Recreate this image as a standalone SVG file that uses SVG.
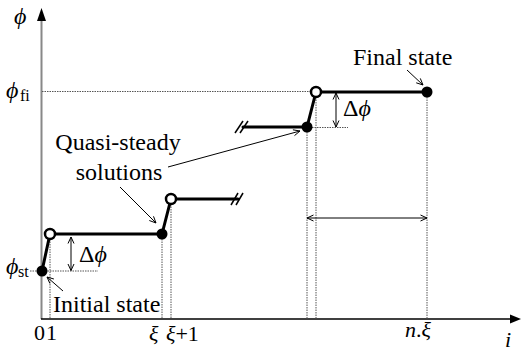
<svg xmlns="http://www.w3.org/2000/svg" width="521" height="352" viewBox="0 0 521 352">
<g id="axes">
<line x1="41.5" y1="20" x2="41.5" y2="319" stroke="#888" stroke-width="2"/>
<polygon points="41.5,8 37,21 46,21" fill="#000"/>
<line x1="41" y1="319" x2="511" y2="319" stroke="#000" stroke-width="1.5"/>
<polygon points="521,319 510,314.5 510,323.5" fill="#000"/>
</g>
<g id="guides" stroke="#555" stroke-width="1" stroke-dasharray="1.5,1" fill="none">
<line x1="42" y1="91.5" x2="316" y2="91.5"/>
<line x1="30" y1="271" x2="98" y2="271"/>
<line x1="307" y1="127.5" x2="348" y2="127.5"/>
<line x1="50" y1="234" x2="50" y2="319"/>
<line x1="162" y1="234" x2="162" y2="319"/>
<line x1="171" y1="199" x2="171" y2="319"/>
<line x1="307" y1="127" x2="307" y2="319"/>
<line x1="316" y1="92" x2="316" y2="319"/>
<line x1="427" y1="92" x2="427" y2="319"/>
</g>
<g id="path" stroke="#000" fill="none">
<polyline stroke-width="3" stroke-linecap="round" points="42,271 50,234 162,234 171,199 238,199"/>
<line stroke-width="1.5" x1="231" y1="205" x2="238" y2="193"/>
<line stroke-width="1.5" x1="236" y1="205" x2="243" y2="193"/>
<polyline stroke-width="3" stroke-linecap="round" points="243,127 307,127 316,92 427,92"/>
<line stroke-width="1.5" x1="235" y1="133" x2="243" y2="121"/>
<line stroke-width="1.5" x1="240" y1="133" x2="248" y2="121"/>
</g>
<g id="points">
<circle id="p-start" fill="#000" cx="42" cy="271" r="5.5"/>
<circle id="p-1" fill="#fff" stroke="#000" stroke-width="2.5" cx="50" cy="234" r="5"/>
<circle id="p-xi" fill="#000" cx="162" cy="234" r="5.5"/>
<circle id="p-xi1" fill="#fff" stroke="#000" stroke-width="2.5" cx="171" cy="199" r="5"/>
<circle id="p-b" fill="#000" cx="307" cy="127" r="5.5"/>
<circle id="p-c" fill="#fff" stroke="#000" stroke-width="2.5" cx="316" cy="92" r="5"/>
<circle id="p-final" fill="#000" cx="427" cy="92" r="5.5"/>
</g>
<g id="connectors" stroke="#000" stroke-width="1" fill="none">
<line x1="71" y1="237" x2="71" y2="270.5"/>
<polyline points="68,243.5 71,237 74,243.5"/>
<polyline points="68,264 71,270.5 74,264"/>
<line x1="336" y1="93" x2="336" y2="127"/>
<polyline points="333,99.5 336,93 339,99.5"/>
<polyline points="333,120.5 336,127 339,120.5"/>
<line x1="307" y1="218" x2="427" y2="218"/>
<polyline points="313.5,215 307,218 313.5,221"/>
<polyline points="420.5,215 427,218 420.5,221"/>
<line x1="168" y1="167" x2="300" y2="131"/>
<polyline points="294.5,135.6 300,131 292.9,129.8"/>
<line x1="120" y1="187" x2="156" y2="223"/>
<polyline points="149.3,220.5 156,223 153.5,216.3"/>
<line x1="63" y1="291" x2="47" y2="277"/>
<polyline points="53.9,279 47,277 49.9,283.5"/>
<line x1="407" y1="70" x2="423" y2="85"/>
<polyline points="416.2,82.8 423,85 420.3,78.4"/>
</g>
<text font-family="Liberation Serif" font-size="24" font-style="italic" x="14" y="24">&#981;</text>
<text font-family="Liberation Serif" font-size="24" font-style="italic" x="6" y="98">&#981;</text>
<text font-family="Liberation Serif" font-size="16" x="20" y="101">fi</text>
<text font-family="Liberation Serif" font-size="24" font-style="italic" x="6" y="274">&#981;</text>
<text font-family="Liberation Serif" font-size="16" x="18" y="277">st</text>
<text font-family="Liberation Serif" font-size="22" x="34" y="340">0</text>
<text font-family="Liberation Serif" font-size="22" x="46" y="340">1</text>
<text font-family="Liberation Serif" font-size="22" font-style="italic" x="149" y="341">&#958;</text>
<text font-family="Liberation Serif" font-size="22" x="166" y="341"><tspan font-style="italic">&#958;</tspan>+1</text>
<text font-family="Liberation Serif" font-size="22" x="405" y="337"><tspan font-style="italic">n</tspan>.<tspan font-style="italic">&#958;</tspan></text>
<text font-family="Liberation Serif" font-size="22" font-style="italic" x="505" y="347">i</text>
<text font-family="Liberation Serif" font-size="24" x="79" y="262">&#916;<tspan font-style="italic">&#981;</tspan></text>
<text font-family="Liberation Serif" font-size="24" x="343" y="116">&#916;<tspan font-style="italic">&#981;</tspan></text>
<text font-family="Liberation Serif" font-size="24" x="53" y="312">Initial state</text>
<text font-family="Liberation Serif" font-size="24" x="353" y="65">Final state</text>
<text font-family="Liberation Serif" font-size="24" x="118" y="150" text-anchor="middle">Quasi-steady</text>
<text font-family="Liberation Serif" font-size="24" x="119" y="180" text-anchor="middle">solutions</text>
</svg>
